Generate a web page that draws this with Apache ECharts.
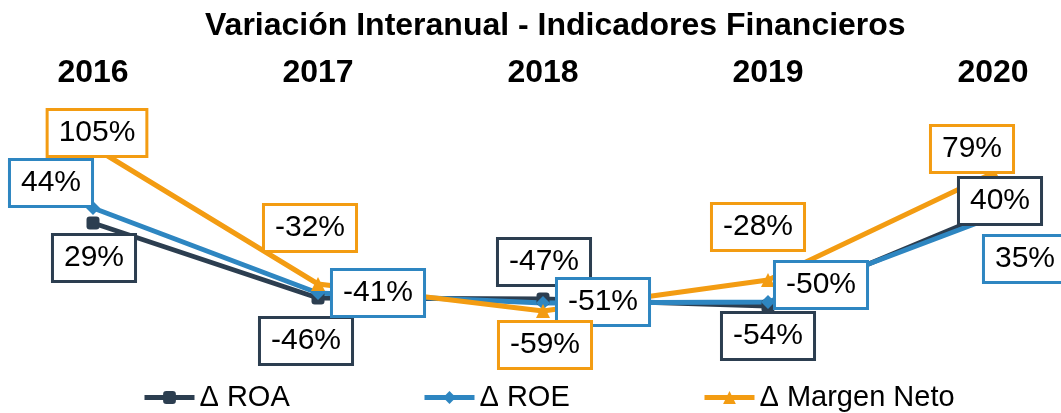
<!DOCTYPE html>
<html>
<head>
<meta charset="utf-8">
<script src="https://cdn.jsdelivr.net/npm/echarts@6/dist/echarts.min.js"></script>
<style>
html,body{margin:0;padding:0;background:#fff;}
#c{width:1061px;height:413px;}
</style>
</head>
<body>
<div id="c"></div>
<script>
const categories = ['2016', '2017', '2018', '2019', '2020'];
const seriesNames = ['\u0394 ROA', '\u0394 ROE', '\u0394 Margen Neto'];
const roa = [29, -46, -47, -54, 40];
const roe = [44, -41, -51, -50, 35];
const margen = [105, -32, -59, -28, 79];

// label box offsets (style only)
const roaOff = [[1, 35], [-12, 43], [1, -37], [0, 30], [7, -11]];
const roeOff = [[-42, -25], [60, 0], [60, -1], [53, -17], [32, 42]];
const margenOff = [[4, -14], [-8, -56], [2, 34], [-10, -53], [-21, -24]];

const colors = ['#2C3E50', '#2E86C1', '#F39C12'];
const symbols = ['roundRect', 'diamond', 'triangle'];
const FONT = '"Liberation Sans", Arial, sans-serif';

function mk(name, vals, offs, color, symbol, symSize) {
  return {
    name: name,
    type: 'line',
    data: vals.map((v, i) => ({ value: v, label: { offset: offs[i] } })),
    symbol: symbol,
    symbolSize: symSize,
    showAllSymbol: true,
    lineStyle: { color: color, width: 5 },
    itemStyle: { color: color },
    emphasis: { disabled: true },
    label: {
      show: true,
      position: 'inside',
      formatter: '{c}%',
      fontFamily: FONT,
      fontSize: 30,
      lineHeight: 30,
      color: '#000',
      backgroundColor: '#fff',
      borderColor: color,
      borderWidth: 3,
      padding: [7, 10, 7, 10]
    }
  };
}

const chart = echarts.init(document.getElementById('c'));
function legendAt(x, idx) {
  return {
    left: x,
    top: 383,
    padding: 0,
    itemWidth: 50,
    itemHeight: 16,
    data: [seriesNames[idx]],
    lineStyle: { width: 5 },
    textStyle: { fontFamily: FONT, fontSize: 29, color: '#000' }
  };
}
chart.setOption({
  animation: false,
  backgroundColor: '#fff',
  title: {
    text: 'Variación Interanual - Indicadores Financieros',
    left: 205,
    top: 10,
    padding: 0,
    textStyle: { fontFamily: FONT, fontSize: 32, fontWeight: 'bold', color: '#000' }
  },
  legend: [legendAt(142, 0), legendAt(422, 1), legendAt(702, 2)],
  grid: { left: 93, right: 68, top: 92, bottom: 21, containLabel: false },
  xAxis: {
    type: 'category',
    position: 'top',
    data: categories,
    boundaryGap: false,
    axisLine: { show: false },
    axisTick: { show: false },
    splitLine: { show: false },
    axisLabel: {
      margin: 3,
      fontFamily: FONT,
      fontSize: 32,
      fontWeight: 'bold',
      color: '#000'
    }
  },
  yAxis: {
    type: 'value',
    min: -140,
    max: 160,
    show: false,
    splitLine: { show: false }
  },
  series: [
    mk(seriesNames[0], roa, roaOff, colors[0], symbols[0], 13),
    mk(seriesNames[1], roe, roeOff, colors[1], symbols[1], 14),
    mk(seriesNames[2], margen, margenOff, colors[2], symbols[2], 14)
  ]
});
</script>
</body>
</html>
